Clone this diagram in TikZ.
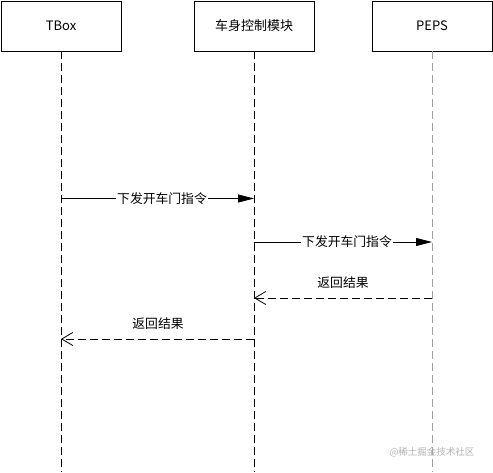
\documentclass[tikz,border=0pt]{standalone}
\usepackage{fontspec}
\setmainfont{Noto Sans CJK SC}
\usetikzlibrary{arrows.meta}
\begin{document}
\begin{tikzpicture}[x=1pt,y=-1pt,
  actor/.style={draw=black,line width=0.8pt,minimum width=120pt,minimum height=50pt,inner sep=0pt,font=\fontsize{13}{15}\selectfont},
  life/.style={line width=0.8pt,dash pattern=on 8pt off 4pt},
  msg/.style={line width=0.8pt,-{Triangle[length=16pt,width=8pt]}},
  ret/.style={line width=0.8pt,dash pattern=on 8pt off 4pt,-{Straight Barb[length=11pt,width=13pt,line width=0.8pt]}},
  lbl/.style={font=\fontsize{12.8}{15}\selectfont,inner sep=1pt},
  lblbg/.style={lbl,fill=white}]
\useasboundingbox (0,0) rectangle (493,472);
\node[actor] (tbox) at (61,26) {TBox};
\node[actor] (bcm) at (254,26) {车身控制模块};
\node[actor] (peps) at (432,26) {PEPS};
\coordinate (tboxend) at (61,472);
\coordinate (bcmend) at (254,472);
\coordinate (pepsend) at (432,472);
\draw[life] (tbox.south) -- (tboxend);
\draw[life] (bcm.south) -- (bcmend);
\draw[life,draw=gray!75] (peps.south) -- (pepsend);
% messages
\coordinate (a1) at (61,198.5); \coordinate (b1) at (254,198.5);
\coordinate (a2) at (254,242); \coordinate (b2) at (432,242);
\coordinate (a3) at (432,298); \coordinate (b3) at (254,298);
\coordinate (a4) at (254,339); \coordinate (b4) at (61,339);
\draw[msg] (a1) -- (b1);
\node[lblbg] (m1) at (162,198.5) {下发开车门指令};
\draw[msg] (a2) -- (b2);
\node[lblbg] (m2) at (347,242) {下发开车门指令};
\draw[ret] (a3) -- (b3);
\node[lbl] (m3) at (343,283) {返回结果};
\draw[ret] (a4) -- (b4);
\node[lbl] (m4) at (158,324) {返回结果};
\node[font=\fontsize{9.5}{11}\selectfont,text=gray!60,inner sep=0pt] (wm) at (432,452) {@稀土掘金技术社区};
\end{tikzpicture}
\end{document}
